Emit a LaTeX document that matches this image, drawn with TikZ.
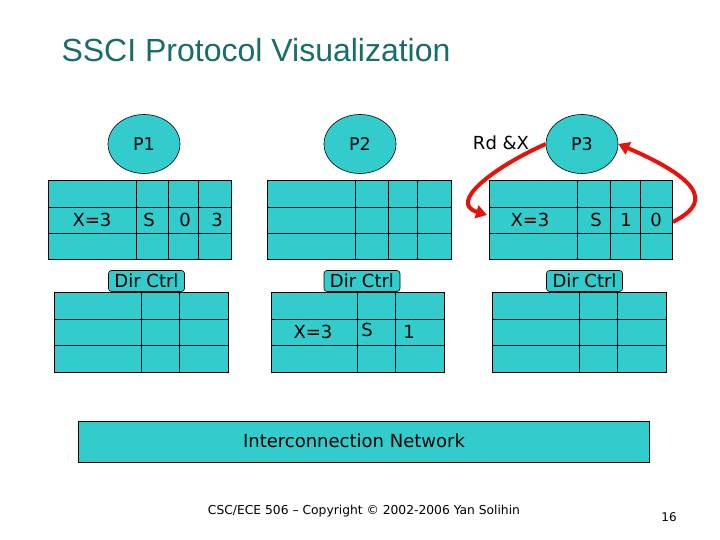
\documentclass[tikz,border=0pt]{standalone}
\usepackage{fontspec}
\setmainfont{DejaVu Sans}
\newfontfamily\titlefont{Liberation Sans}
\usepackage{tikz}
\usepackage{xcolor}
\usetikzlibrary{arrows.meta, positioning, calc, shapes.geometric}
\definecolor{cellfill}{HTML}{33CCCC}
\definecolor{titleteal}{HTML}{176E68}
\definecolor{arrowred}{HTML}{E8120C}

\begin{document}
\begin{tikzpicture}[x=1pt, y=-1pt,
            proc/.style={ellipse, draw=black, fill=cellfill, line width=0.6pt, minimum width=72pt, minimum height=59pt, inner sep=0pt, font=\fontsize{17.5}{20}\selectfont},
            tbl/.style={draw=black, fill=cellfill, line width=0.9pt},
            gridline/.style={black, line width=0.9pt},
            cell/.style={inner sep=0pt, font=\fontsize{18}{21}\selectfont},
            dirlabel/.style={draw=black, fill=cellfill, rounded corners=3pt, line width=0.6pt, minimum width=76pt, minimum height=21pt, inner sep=0pt, font=\fontsize{18}{21}\selectfont},
            rdarrow/.style={arrowred, line width=4pt, -{Triangle[length=11pt, width=13pt]}}]
            \useasboundingbox (0,0) rectangle (720,540);
            \node[anchor=west, titleteal, font=\titlefont\fontsize{32}{36}\selectfont] (title) at (58,50) {SSCI Protocol Visualization};
            % processors
            \node[proc] (P1) at (144,144) {P1};
            \node[proc] (P2) at (360,144) {P2};
            \node[proc] (P3) at (582,144) {P3};
            \node[cell] (rdx) at (501,143) {Rd \&X};
            % caches
            \draw[tbl] (48,180) rectangle (231,259);
            \foreach \x in {136,168,198} \draw[gridline] (\x,180) -- (\x,259);
            \foreach \y in {207,233} \draw[gridline] (48,\y) -- (231,\y);
            \draw[tbl] (267,180) rectangle (451,259);
            \foreach \x in {355,388,417} \draw[gridline] (\x,180) -- (\x,259);
            \foreach \y in {207,233} \draw[gridline] (267,\y) -- (451,\y);
            \draw[tbl] (489,180) rectangle (672,259);
            \foreach \x in {577,610,640} \draw[gridline] (\x,180) -- (\x,259);
            \foreach \y in {207,233} \draw[gridline] (489,\y) -- (672,\y);
            \node[cell] (c1x) at (92,220) {X=3};
            \node[cell] (c1s) at (149,220) {S};
            \node[cell] (c1v) at (185,220) {0};
            \node[cell] (c1d) at (217,220) {3};
            \node[cell] (c3x) at (530,220) {X=3};
            \node[cell] (c3s) at (596,220) {S};
            \node[cell] (c3v) at (626,220) {1};
            \node[cell] (c3d) at (656,220) {0};
            % directories
            \draw[tbl] (54,292) rectangle (228,372);
            \foreach \x in {141,179} \draw[gridline] (\x,292) -- (\x,372);
            \foreach \y in {319,345} \draw[gridline] (54,\y) -- (228,\y);
            \draw[tbl] (271,292) rectangle (444,372);
            \foreach \x in {357,395} \draw[gridline] (\x,292) -- (\x,372);
            \foreach \y in {319,345} \draw[gridline] (271,\y) -- (444,\y);
            \draw[tbl] (492,292) rectangle (666,372);
            \foreach \x in {579,617} \draw[gridline] (\x,292) -- (\x,372);
            \foreach \y in {319,345} \draw[gridline] (492,\y) -- (666,\y);
            \node[dirlabel] (d1) at (146.5,281) {Dir Ctrl};
            \node[dirlabel] (d2) at (362,281) {Dir Ctrl};
            \node[dirlabel] (d3) at (584.5,281) {Dir Ctrl};
            \node[cell] (d2x) at (313,332) {X=3};
            \node[cell] (d2s) at (367,330) {S};
            \node[cell] (d2v) at (409,332) {1};
            % network
            \node[draw=black, fill=cellfill, line width=0.9pt, minimum width=571pt, minimum height=41pt, inner sep=0pt] (net) at (363.5,441.5) {};
            \node[cell] (netlabel) at (354,441) {Interconnection Network};
            % request and reply
            \coordinate (p3in) at (487,215);
            \coordinate (p3out) at (673,222);
            \draw[rdarrow] (P3.west) .. controls (492,168) and (448,203) .. (p3in);
            \draw[rdarrow] (p3out) .. controls (695,210) and (725,190) .. (P3.east);
            % footer
            \node[font=\fontsize{12.3}{14}\selectfont] (foot) at (364,511) {CSC/ECE 506 – Copyright © 2002-2006 Yan Solihin};
            \node[font=\fontsize{12}{14}\selectfont] (page) at (669,517) {16};
        \end{tikzpicture}
\end{document}
